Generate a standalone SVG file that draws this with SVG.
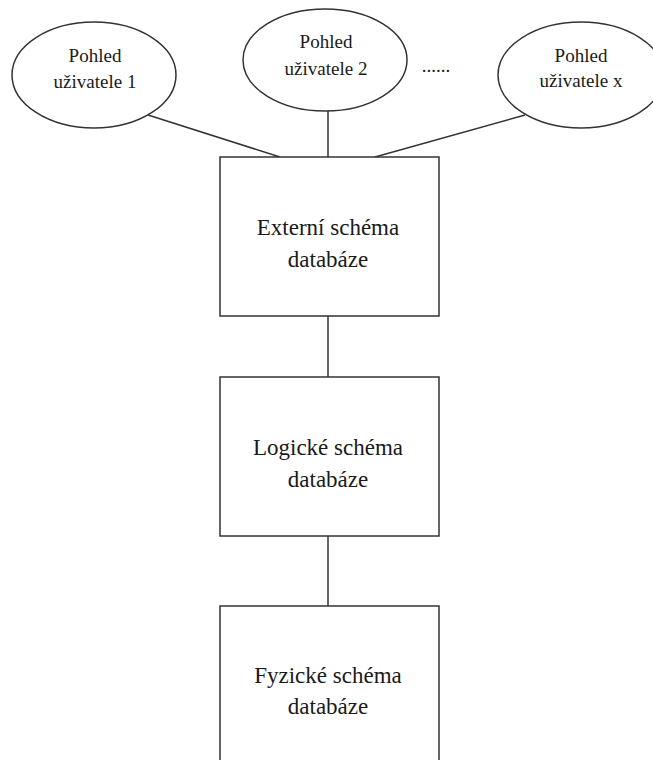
<svg xmlns="http://www.w3.org/2000/svg" width="653" height="760" viewBox="0 0 653 760">
  <style>
    .shape { fill: #ffffff; stroke: #333333; stroke-width: 1.5; }
    .link { stroke: #333333; stroke-width: 1.5; fill: none; }
    .view { font-family: "Liberation Serif", "DejaVu Serif", serif; font-size: 19px; fill: #1a1a1a; text-anchor: middle; }
    .level { font-family: "Liberation Serif", "DejaVu Serif", serif; font-size: 23px; fill: #1a1a1a; text-anchor: middle; }
  </style>
  <rect width="653" height="760" fill="#ffffff"/>

  <!-- connectors -->
  <g id="connectors">
    <line class="link" x1="148" y1="115" x2="280" y2="157"/>
    <line class="link" x1="328" y1="110" x2="328" y2="157"/>
    <line class="link" x1="525" y1="115" x2="375" y2="157"/>
    <line class="link" x1="328" y1="316" x2="328" y2="377"/>
    <line class="link" x1="328" y1="536" x2="328" y2="606"/>
  </g>

  <!-- user views -->
  <g id="view1">
    <ellipse class="shape" cx="94" cy="75" rx="82" ry="53"/>
    <text class="view" x="95" y="62">Pohled</text>
    <text class="view" x="95" y="88">uživatele 1</text>
  </g>
  <g id="view2">
    <ellipse class="shape" cx="325" cy="60" rx="82" ry="51"/>
    <text class="view" x="326" y="48">Pohled</text>
    <text class="view" x="326" y="75">uživatele 2</text>
  </g>
  <g id="ellipsis">
    <text class="view" x="436" y="72">......</text>
  </g>
  <g id="viewx">
    <ellipse class="shape" cx="581" cy="75" rx="83" ry="53"/>
    <text class="view" x="581" y="62">Pohled</text>
    <text class="view" x="581" y="87">uživatele x</text>
  </g>

  <!-- schema levels -->
  <g id="external">
    <rect class="shape" x="220" y="157" width="219" height="159"/>
    <text class="level" x="328" y="235">Externí schéma</text>
    <text class="level" x="328" y="267">databáze</text>
  </g>
  <g id="logical">
    <rect class="shape" x="220" y="377" width="219" height="159"/>
    <text class="level" x="328" y="455">Logické schéma</text>
    <text class="level" x="328" y="487">databáze</text>
  </g>
  <g id="physical">
    <rect class="shape" x="220" y="606" width="219" height="159"/>
    <text class="level" x="328" y="683">Fyzické schéma</text>
    <text class="level" x="328" y="714">databáze</text>
  </g>
</svg>
